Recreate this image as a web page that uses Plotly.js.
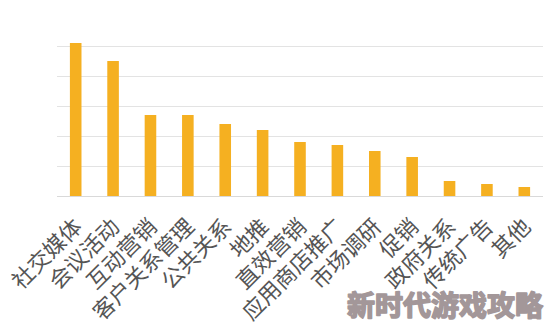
<!DOCTYPE html>
<html>
<head>
<meta charset="utf-8">
<script src="https://cdn.plot.ly/plotly-3.0.1.min.js"></script>
<style>
html,body{margin:0;padding:0;background:#fff;}
#chart{width:557px;height:329px;}
#chart .annotation-text{stroke:#A39799;stroke-width:1.6px;stroke-linejoin:round;}
</style>
</head>
<body>
<div id="chart"></div>
<script>
const categories = ["社交媒体","会议活动","互动营销","客户关系管理","公共关系","地推","直效营销","应用商店推广","市场调研","促销","政府关系","传统广告","其他"];
const values = [51, 45, 27, 27, 24, 22, 18, 17, 15, 13, 5, 4, 3];
const watermark = "新时代游戏攻略";

const trace = {
  type: "bar",
  x: categories,
  y: values,
  marker: {color: "#F5B021"},
  hoverinfo: "skip"
};

const layout = {
  width: 557, height: 329,
  margin: {l: 57, r: 14, t: 16, b: 133},
  paper_bgcolor: "#ffffff",
  plot_bgcolor: "#ffffff",
  bargap: 0.69,
  showlegend: false,
  font: {family: "Noto Sans CJK SC, sans-serif", color: "#505050"},
  xaxis: {
    type: "category",
    tickangle: -45,
    ticklabelstandoff: 8,
    tickfont: {size: 22, family: "Noto Sans CJK SC, sans-serif", color: "#555555"},
    showline: true, linecolor: "#d9d9d9", linewidth: 1,
    ticks: "", showgrid: false, automargin: false
  },
  yaxis: {
    range: [0, 60], dtick: 10,
    showticklabels: false,
    showgrid: true, gridcolor: "#e3e3e3", gridwidth: 1,
    zeroline: false, ticks: ""
  },
  annotations: [{
    text: "<b>" + watermark + "</b>",
    xref: "paper", yref: "paper",
    x: 1.005, y: -0.6, xanchor: "right", yanchor: "middle",
    showarrow: false,
    font: {size: 28, family: "Noto Sans CJK SC, sans-serif", color: "#A39799"}
  }]
};

Plotly.newPlot("chart", [trace], layout, {displayModeBar: false, staticPlot: true});
</script>
</body>
</html>
